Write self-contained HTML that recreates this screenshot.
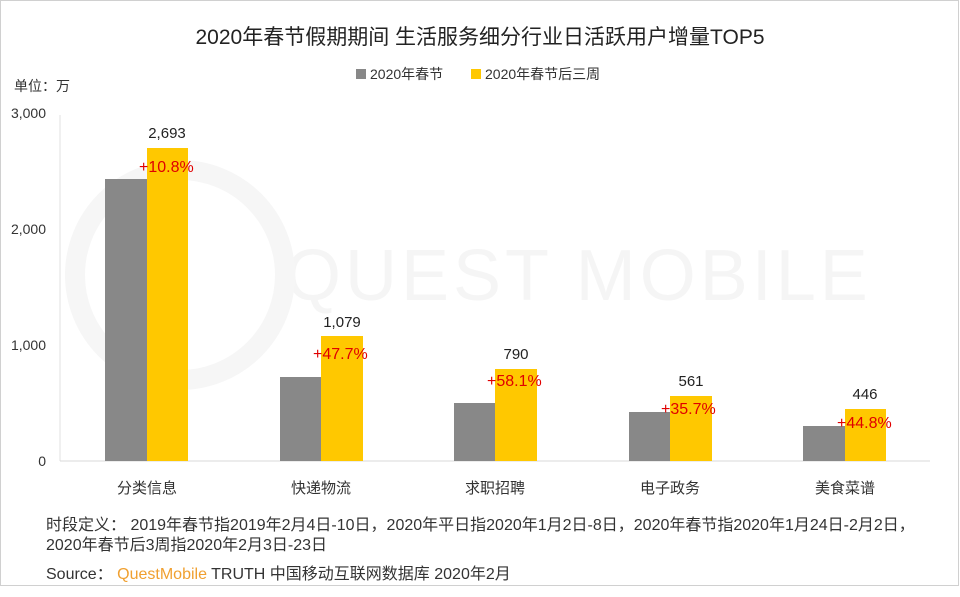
<!DOCTYPE html>
<html><head><meta charset="utf-8"><style>
body{margin:0;background:#fff;}
svg text{font-family:"Liberation Sans","Noto Sans CJK SC",sans-serif;}
</style></head><body>
<svg width="960" height="592" xmlns="http://www.w3.org/2000/svg">
<rect x="0.5" y="0.5" width="958" height="585" fill="#fff" stroke="#d0d0d0"/>
<text x="480" y="44" font-size="21" text-anchor="middle" fill="#222">2020年春节假期期间 生活服务细分行业日活跃用户增量TOP5</text>
<rect x="356" y="69" width="10" height="10" fill="#888"/>
<text x="370" y="79" font-size="14" fill="#333">2020年春节</text>
<rect x="471" y="69" width="10" height="10" fill="#ffc800"/>
<text x="485" y="79" font-size="14" fill="#333">2020年春节后三周</text>
<text x="14" y="91" font-size="14" fill="#333">单位：万</text>
<text x="285" y="300" font-size="72" fill="#f5f5f5" letter-spacing="4">QUEST MOBILE</text>
<circle cx="180" cy="275" r="105" fill="none" stroke="#f6f6f6" stroke-width="20"/>
<line x1="60" y1="115" x2="60" y2="461" stroke="#e0e0e0"/>
<line x1="60" y1="461" x2="930" y2="461" stroke="#d9d9d9"/>
<g font-size="14" fill="#333" text-anchor="end">
<text x="46" y="118">3,000</text><text x="46" y="234">2,000</text><text x="46" y="350">1,000</text><text x="46" y="466">0</text>
</g>
<g fill="#888">
<rect x="105" y="179" width="42" height="282"/>
<rect x="280" y="377" width="41" height="84"/>
<rect x="454" y="403" width="41" height="58"/>
<rect x="629" y="412" width="41" height="49"/>
<rect x="803" y="426" width="42" height="35"/>
</g>
<g fill="#ffc800">
<rect x="147" y="148" width="41" height="313"/>
<rect x="321" y="336" width="42" height="125"/>
<rect x="495" y="369" width="42" height="92"/>
<rect x="670" y="396" width="42" height="65"/>
<rect x="845" y="409" width="41" height="52"/>
</g>
<g font-size="15" fill="#222" text-anchor="middle">
<text x="167" y="138">2,693</text><text x="342" y="327">1,079</text><text x="516" y="359">790</text><text x="691" y="386">561</text><text x="865" y="399">446</text>
</g>
<g font-size="16" fill="#e00000">
<text x="139" y="172">+10.8%</text><text x="313" y="359">+47.7%</text><text x="487" y="386">+58.1%</text><text x="661" y="414">+35.7%</text><text x="837" y="428">+44.8%</text>
</g>
<g font-size="15" fill="#333" text-anchor="middle">
<text x="147" y="493">分类信息</text><text x="321" y="493">快递物流</text><text x="495" y="493">求职招聘</text><text x="670" y="493">电子政务</text><text x="845" y="493">美食菜谱</text>
</g>
<g font-size="16" fill="#333">
<text x="46" y="530">时段定义：  2019年春节指2019年2月4日-10日，2020年平日指2020年1月2日-8日，2020年春节指2020年1月24日-2月2日，</text>
<text x="46" y="550">2020年春节后3周指2020年2月3日-23日</text>
<text x="46" y="579">Source：  <tspan fill="#f0a030">QuestMobile</tspan> TRUTH 中国移动互联网数据库 2020年2月</text>
</g>
</svg>
</body></html>
